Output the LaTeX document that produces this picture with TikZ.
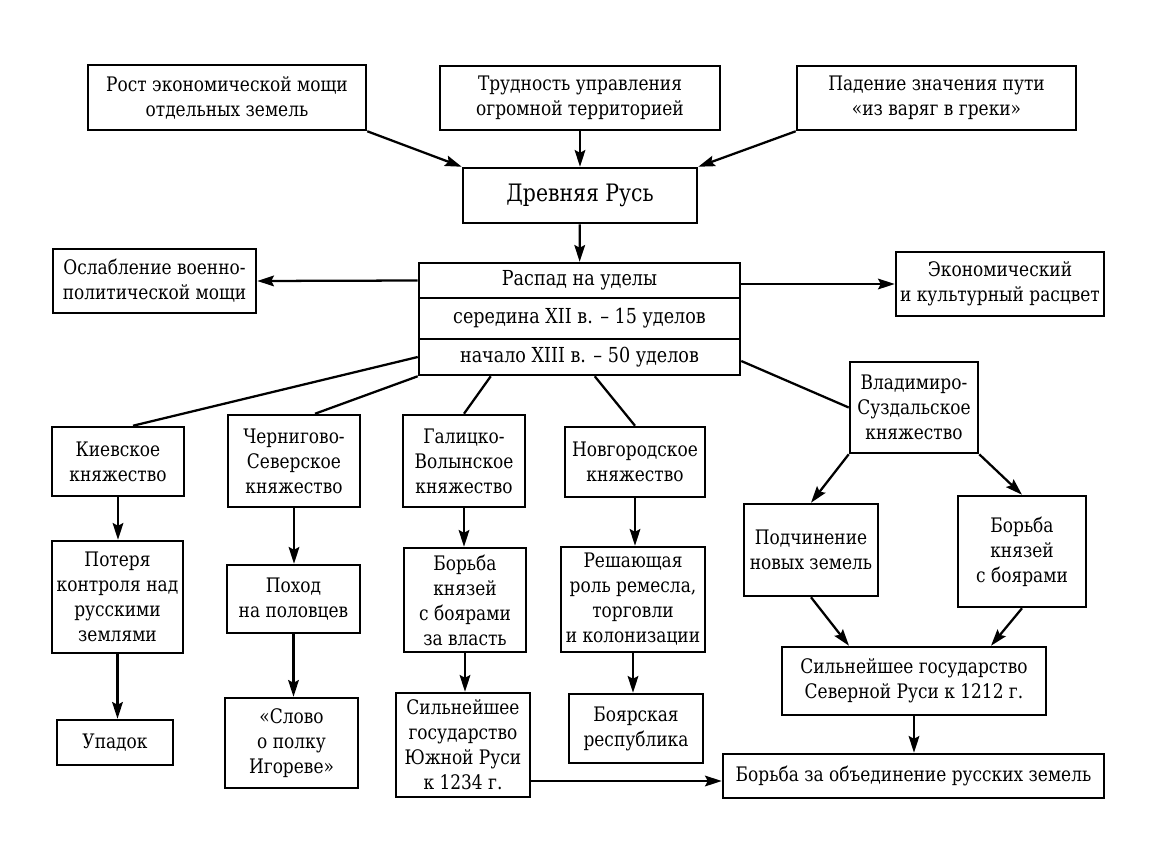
\documentclass[tikz,border=0pt]{standalone}
\usepackage{fontspec}
\setmainfont{DejaVu Serif}[FakeStretch=0.85]
\usetikzlibrary{arrows.meta,calc}
\tikzset{
  box/.style={draw=black, line width=1.9pt, fill=white, align=center, inner sep=0pt,
    font=\fontsize{15}{18.75}\selectfont},
  bigbox/.style={box, font=\fontsize{18}{22}\selectfont},
  rowbox/.style={box, font=\fontsize{15.5}{19}\selectfont},
  arr/.style={line width=1.7pt, -{Stealth[length=12.5pt,width=8pt,inset=2pt]}},
  ln/.style={line width=1.7pt}
}
\newcommand\bx[7][box]{\node[#1, minimum width={(#5-#3)*0.75pt}, minimum height={(#6-#4)*0.75pt}] (#2) at ({(#3+#5)/2},{(#4+#6)/2}) {#7};}
\begin{document}
\begin{tikzpicture}[x=0.75pt,y=-0.75pt]
\useasboundingbox[fill=white] (0,0) rectangle (1150,864);
% top row
\bx{A}{88}{65}{366}{130}{Рост экономической мощи\\отдельных земель}
\bx{B}{440}{66}{720}{130}{Трудность управления\\огромной территорией}
\bx{C}{797}{66}{1076}{130}{Падение значения пути\\«из варяг в греки»}
\bx[bigbox]{D}{463}{168}{697}{223}{Древняя Русь}
% split box
\bx[rowbox]{R1}{419}{263}{740}{298}{Распад на уделы}
\bx[rowbox]{R2}{419}{298}{740}{339}{середина XII в. – 15 уделов}
\bx[rowbox]{R3}{419}{339}{740}{375}{начало XIII в. – 50 уделов}
\bx{Osl}{53}{249}{256}{313}{Ослабление военно-\\политической мощи}
\bx{Ekon}{896}{252}{1104}{316}{Экономический\\и культурный расцвет}
% principalities
\bx{Kiev}{52}{427}{184}{496}{Киевское\\княжество}
\bx{Cher}{228}{415}{360}{507}{Чернигово-\\Северское\\княжество}
\bx{Gal}{403}{415}{525}{507}{Галицко-\\Волынское\\княжество}
\bx{Nov}{565}{427}{705}{497}{Новгородское\\княжество}
\bx{Vlad}{850}{362}{978}{453}{Владимиро-\\Суздальское\\княжество}
% second level
\bx{Pot}{52}{541}{183}{653}{Потеря\\контроля над\\русскими\\землями}
\bx{Poh}{227}{565}{360}{633}{Поход\\на половцев}
\bx{BorG}{404}{548}{526}{652}{Борьба\\князей\\с боярами\\за власть}
\bx{Resh}{561}{547}{705}{652}{Решающая\\роль ремесла,\\торговли\\и колонизации}
\bx{Podch}{744}{504}{878}{596}{Подчинение\\новых земель}
\bx{BorV}{958}{496}{1086}{607}{Борьба\\князей\\с боярами}
% third level
\bx{Upad}{57}{720}{173}{765}{Упадок}
\bx{Slovo}{225}{698}{358}{788}{«Слово\\о полку\\Игореве»}
\bx{Yuz}{396}{693}{530}{797}{Сильнейшее\\государство\\Южной Руси\\к 1234 г.}
\bx{Boyar}{569}{694}{703}{763}{Боярская\\республика}
\bx{Sev}{782}{647}{1046}{715}{Сильнейшее государство\\Северной Руси к 1212 г.}
\bx{Obj}{723}{754}{1104}{798}{Борьба за объединение русских земель}
% connectors
\draw[arr] (A.south east) -- (D.north west);
\draw[arr] (B) -- (D);
\draw[arr] (C.south west) -- (D.north east);
\draw[arr] (D) -- (R1);
\draw[arr] (R1.west) -- (Osl.east);
\draw[arr] (R1.east |- Ekon.west) -- (Ekon.west);
\draw[ln] (R3.west) -- ($(Kiev.north)+(15,0)$);
\draw[ln] (R3.south west) -- ($(Cher.north)+(21,0)$);
\draw[ln] ($(R3.south west)+(73,0)$) -- (Gal.north);
\draw[ln] ($(R3.south west)+(177,0)$) -- (Nov.north);
\draw[ln] ($(R3.east)+(0,4)$) -- (Vlad.west);
\draw[arr] (Kiev) -- (Kiev |- Pot.north);
\draw[arr] (Pot) -- (Pot |- Upad.north);
\draw[arr] (Cher) -- (Cher |- Poh.north);
\draw[arr] (Poh) -- (Poh |- Slovo.north);
\draw[arr] (Gal) -- (Gal |- BorG.north);
\draw[arr] (BorG) -- (BorG |- Yuz.north);
\draw[arr] (Nov) -- (Nov |- Resh.north);
\draw[arr] (Resh) -- (Resh |- Boyar.north);
\draw[arr] (Vlad.south west) -- (Podch.north);
\draw[arr] (Vlad.south east) -- (BorV.north);
\draw[arr] (Podch.south) -- ($(Sev.north)+(-65,0)$);
\draw[arr] (BorV.south) -- ($(Sev.north)+(77,0)$);
\draw[arr] (Sev) -- (Sev |- Obj.north);
\draw[arr] ($(Yuz.east)+(0,36)$) -- ($(Obj.west)+(0,5)$);
\end{tikzpicture}
\end{document}
